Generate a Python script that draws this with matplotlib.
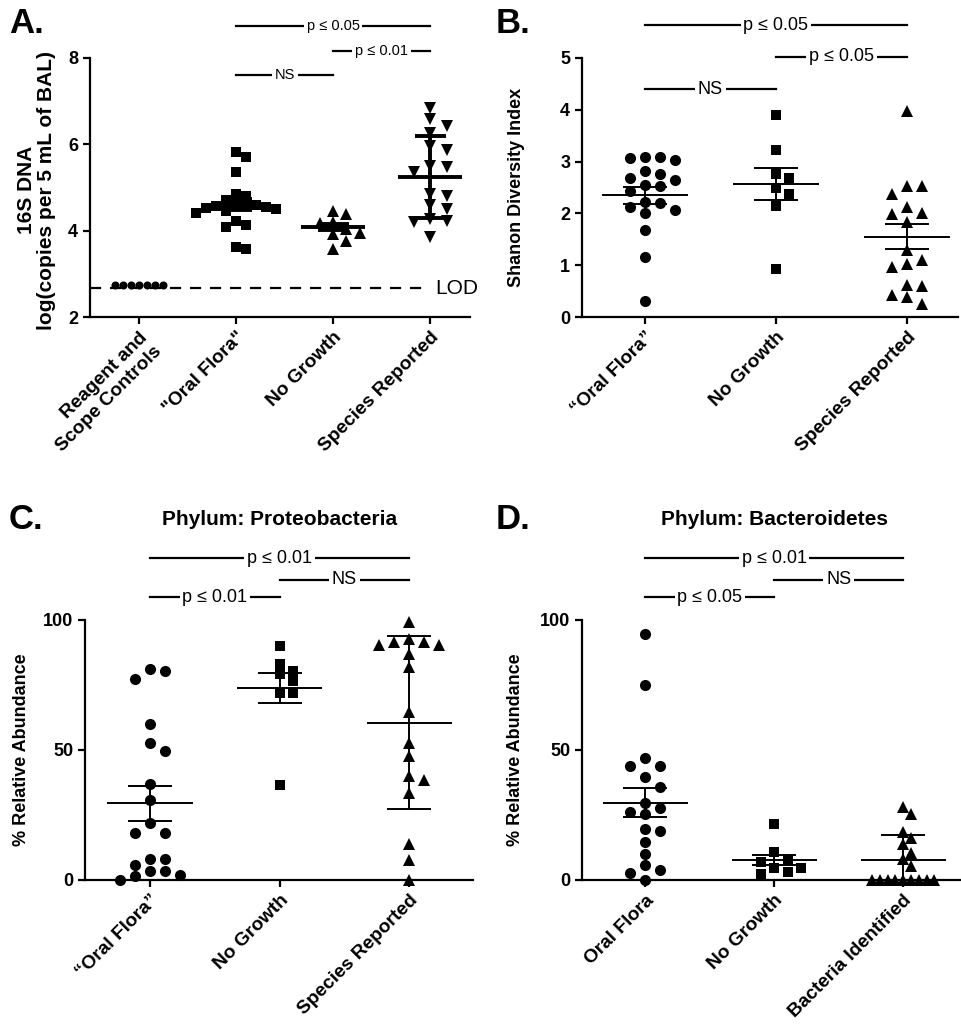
import numpy as np
import matplotlib
matplotlib.use('Agg')
import matplotlib.pyplot as plt

plt.rcParams['font.family'] = ['Liberation Sans', 'DejaVu Sans']

# ---- Panel A: 16S DNA ----
a_labels = ['Reagent and\nScope Controls', '"Oral Flora"', 'No Growth', 'Species Reported']
a_controls = [2.74, 2.74, 2.74, 2.74, 2.74, 2.74, 2.74]
a_oral = [5.83, 5.71, 5.35, 4.85, 4.81, 4.70, 4.62, 4.60, 4.58, 4.58, 4.55, 4.52,
          4.50, 4.45, 4.41, 4.23, 4.14, 4.08, 3.62, 3.58]
a_nogrowth = [4.46, 4.38, 4.19, 4.17, 4.05, 3.95, 3.93, 3.77, 3.58]
a_species = [6.85, 6.58, 6.42, 6.27, 5.96, 5.88, 5.50, 5.48, 5.35, 4.85, 4.81,
             4.60, 4.50, 4.27, 4.23, 4.20, 3.85]
a_mean = [4.60, 4.09, 5.25]
a_err = [0.13, 0.07, 0.95]
a_lod = 2.67

# ---- Panel B: Shannon diversity ----
b_labels = ['\u201cOral Flora\u201d', 'No Growth', 'Species Reported']
b_oral = [3.06, 3.08, 3.09, 3.04, 2.82, 2.76, 2.69, 2.64, 2.55, 2.44, 2.53, 2.21,
          2.22, 2.07, 2.00, 2.13, 1.68, 1.16, 0.31]
b_nogrowth = [3.90, 3.23, 2.77, 2.69, 2.49, 2.37, 2.15, 0.93]
b_species = [3.98, 2.53, 2.53, 2.38, 2.13, 2.00, 1.98, 1.84, 1.30, 1.11, 0.97, 1.03,
             0.61, 0.59, 0.42, 0.39, 0.26]
b_mean = [2.35, 2.57, 1.55]
b_err = [0.16, 0.31, 0.24]

# ---- Panel C: Proteobacteria ----
c_labels = ['\u201cOral Flora\u201d', 'No Growth', 'Species Reported']
c_oral = [81, 80.5, 77.3, 60, 52.8, 49.7, 36.8, 30.8, 21.8, 17.9, 17.9, 8, 8, 5.8,
          3.6, 3.6, 1.9, 1.5, 0]
c_nogrowth = [90.1, 83.1, 80.4, 79.2, 76.7, 71.8, 71.8, 36.5]
c_species = [99.4, 92.6, 91.7, 90.4, 90.4, 91.7, 86.9, 82, 64.7, 52.8, 47.7, 40,
             38.5, 33.3, 13.8, 7.7, 0]
c_mean = [29.5, 73.7, 60.5]
c_err = [6.7, 5.8, 33.3]

# ---- Panel D: Bacteroidetes ----
d_labels = ['Oral Flora', 'No Growth', 'Bacteria Identified']
d_oral = [94.6, 75, 47, 44, 43.8, 39.7, 35.9, 29.7, 26.3, 25.4, 27.7, 18.8, 19.7,
          14.7, 9.9, 5.8, 3.8, 2.6, 0]
d_nogrowth = [21.4, 10.6, 7.1, 7.7, 4.7, 4.7, 3.2, 2.3]
d_bact = [28.2, 25.4, 18.6, 16, 13.8, 10.3, 7.9, 5.4, 0, 0, 0, 0, 0, 0, 0, 0, 0]
d_mean = [29.7, 7.7, 7.7]
d_err = [5.6, 2.1, 9.6]

W, H = 962, 1028
fig = plt.figure(figsize=(W / 100, H / 100), dpi=100)


def px_axes(left, top, right, bottom):
    return fig.add_axes([left / W, 1 - bottom / H, (right - left) / W, (bottom - top) / H])


def style(ax):
    for s in ['top', 'right']:
        ax.spines[s].set_visible(False)
    for s in ['left', 'bottom']:
        ax.spines[s].set_linewidth(1.6)
    ax.tick_params(direction='out', length=5, width=1.6, labelsize=13)
    for t in ax.get_yticklabels():
        t.set_fontweight('bold')


def swarm(ax, xc, vals, size_px, spread):
    # row-style scatter layout in pixel space, returns x data positions
    tr = ax.transData
    ys = [tr.transform((xc, v))[1] for v in vals]
    x0 = tr.transform((xc, 0))[0]
    step = size_px * spread
    placed = []
    offs = np.zeros(len(vals))
    cands = [0.0]
    for k in range(1, 60):
        cands += [k * step * 0.5, -k * step * 0.5]
    for i in np.argsort(vals)[::-1]:
        y = ys[i]
        for c in cands:
            ok = True
            for px, py in placed:
                if abs(y - py) < size_px * 0.95 and abs(c - px) < step * 0.99:
                    ok = False
                    break
            if ok:
                break
        placed.append((c, y))
        offs[i] = c
    inv = tr.inverted()
    return [inv.transform((x0 + offs[i], ys[i]))[0] for i in range(len(vals))]


def points(ax, xc, vals, marker, ms, spread=1.35):
    size_px = ms * 100 / 72
    xs = swarm(ax, xc, vals, size_px, spread)
    ax.plot(xs, vals, linestyle='none', marker=marker, ms=ms, color='black',
            markeredgewidth=0, clip_on=False, zorder=2)


def meanbar(ax, xc, m, e, lw, half=0.33, cap=0.17):
    ax.plot([xc - half, xc + half], [m, m], color='black', lw=lw, zorder=3, solid_capstyle='butt')
    ax.plot([xc, xc], [m - e, m + e], color='black', lw=lw, zorder=3, solid_capstyle='butt')
    for y in (m - e, m + e):
        ax.plot([xc - cap, xc + cap], [y, y], color='black', lw=lw, zorder=3, solid_capstyle='butt')


def sig(ax, x1, x2, y, label, fs):
    ax.plot([x1, x2], [y, y], color='black', lw=1.6, clip_on=False, zorder=4)
    ax.text((x1 + x2) / 2, y, label, ha='center', va='center', fontsize=fs, clip_on=False,
            zorder=5, bbox=dict(facecolor='white', edgecolor='none', pad=2.0))


def xlabels(ax, labels):
    ax.set_xticks(range(len(labels)))
    ax.set_xticklabels(labels, rotation=45, ha='right', rotation_mode='anchor',
                       fontsize=13.8, fontweight='bold')


# Panel A
axA = px_axes(90, 58, 470, 317)
axA.set_xlim(-0.505, 3.41)
axA.set_ylim(2, 8)
axA.set_yticks([2, 4, 6, 8])
style(axA)
xlabels(axA, a_labels)
axA.plot([-0.505, 2.98], [a_lod, a_lod], color='black', lw=1.6, dashes=(5, 4), clip_on=False)
axA.text(3.05, a_lod, 'LOD', ha='left', va='center', fontsize=15, clip_on=False)
points(axA, 0, a_controls, 'o', 5.8, spread=1.0)
points(axA, 1, a_oral, 's', 7.2, spread=1.0)
points(axA, 2, a_nogrowth, '^', 8, spread=1.2)
points(axA, 3, a_species, 'v', 8, spread=1.5)
for i in range(3):
    meanbar(axA, i + 1, a_mean[i], a_err[i], lw=2.8, half=0.33, cap=0.16)
sig(axA, 1, 3, 8.74, 'p \u2264 0.05', 10.5)
sig(axA, 2, 3, 8.16, 'p \u2264 0.01', 10.5)
sig(axA, 1, 2, 7.61, 'NS', 10.5)
axA.set_ylabel('16S DNA\nlog(copies per 5 mL of BAL)', fontsize=15, fontweight='bold',
               multialignment='center', linespacing=1.1)
axA.yaxis.set_label_coords(-0.089, 0.49)

# Panel B
axB = px_axes(582, 58, 958, 317)
axB.set_xlim(-0.48, 2.39)
axB.set_ylim(0, 5)
axB.set_yticks([0, 1, 2, 3, 4, 5])
style(axB)
xlabels(axB, b_labels)
points(axB, 0, b_oral, 'o', 8)
points(axB, 1, b_nogrowth, 's', 7.2)
points(axB, 2, b_species, '^', 8)
for i in range(3):
    meanbar(axB, i, b_mean[i], b_err[i], lw=1.4)
sig(axB, 0, 2, 5.63, 'p \u2264 0.05', 13)
sig(axB, 1, 2, 5.02, 'p \u2264 0.05', 13)
sig(axB, 0, 1, 4.40, 'NS', 13)
axB.set_ylabel('Shanon Diversity Index', fontsize=13, fontweight='bold')
axB.yaxis.set_label_coords(-0.152, 0.5)

# Panel C
axC = px_axes(85, 620, 473, 880)
axC.set_xlim(-0.50, 2.49)
axC.set_ylim(0, 100)
axC.set_yticks([0, 50, 100])
style(axC)
xlabels(axC, c_labels)
points(axC, 0, c_oral, 'o', 8)
points(axC, 1, c_nogrowth, 's', 7.2)
points(axC, 2, c_species, '^', 8)
for i in range(3):
    meanbar(axC, i, c_mean[i], c_err[i], lw=1.4)
sig(axC, 0, 2, 123.8, 'p \u2264 0.01', 13)
sig(axC, 1, 2, 115.4, 'NS', 13)
sig(axC, 0, 1, 108.8, 'p \u2264 0.01', 13)
axC.text(1, 138.5, 'Phylum: Proteobacteria', ha='center', va='center', fontsize=15,
         fontweight='bold', clip_on=False)
axC.set_ylabel('% Relative Abundance', fontsize=13, fontweight='bold')
axC.yaxis.set_label_coords(-0.142, 0.5)

# Panel D
axD = px_axes(582, 620, 960, 880)
axD.set_xlim(-0.49, 2.44)
axD.set_ylim(0, 100)
axD.set_yticks([0, 50, 100])
style(axD)
xlabels(axD, d_labels)
points(axD, 0, d_oral, 'o', 8)
points(axD, 1, d_nogrowth, 's', 7.2)
points(axD, 2, d_bact, '^', 8, spread=0.7)
for i in range(3):
    meanbar(axD, i, d_mean[i], d_err[i], lw=1.4)
sig(axD, 0, 2, 123.8, 'p \u2264 0.01', 13)
sig(axD, 1, 2, 115.4, 'NS', 13)
sig(axD, 0, 1, 108.8, 'p \u2264 0.05', 13)
axD.text(1, 138.5, 'Phylum: Bacteroidetes', ha='center', va='center', fontsize=15,
         fontweight='bold', clip_on=False)
axD.set_ylabel('% Relative Abundance', fontsize=13, fontweight='bold')
axD.yaxis.set_label_coords(-0.153, 0.5)

# panel letters
for lab, x, y in [('A.', 9, 7), ('B.', 496, 7), ('C.', 9, 503), ('D.', 496, 503)]:
    fig.text(x / W, 1 - y / H, lab, fontsize=25, fontweight='bold', ha='left', va='top')

fig.savefig('out.png', dpi=100)
